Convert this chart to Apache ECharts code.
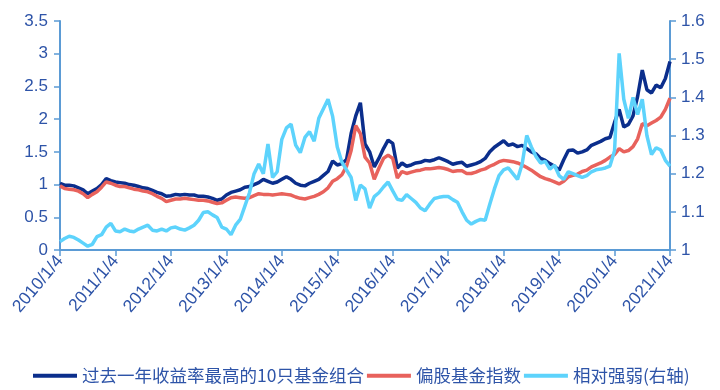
<!DOCTYPE html>
<html><head><meta charset="utf-8">
<script src="https://cdn.jsdelivr.net/npm/echarts@6/dist/echarts.min.js"></script>
<style>html,body{margin:0;padding:0;background:#fff}#c{width:720px;height:390px}</style>
</head><body><div id="c"></div>
<script>
const tickLabels = ['2010/1/4','2011/1/4','2012/1/4','2013/1/4','2014/1/4','2015/1/4','2016/1/4','2017/1/4','2018/1/4','2019/1/4','2020/1/4','2021/1/4'];
const seriesNames = ['过去一年收益率最高的10只基金组合','偏股基金指数','相对强弱(右轴)'];
// monthly samples starting 2010/1
const topFund = [1.02,0.99,0.99,0.98,0.95,0.92,0.86,0.90,0.94,1.00,1.09,1.06,
1.04,1.03,1.02,1.00,0.99,0.97,0.95,0.94,0.91,0.88,0.86,0.82,
0.83,0.85,0.84,0.85,0.84,0.84,0.82,0.82,0.81,0.79,0.76,0.78,
0.84,0.88,0.90,0.92,0.96,0.97,1.00,1.03,1.08,1.05,1.02,1.04,
1.08,1.12,1.08,1.02,0.99,0.98,1.02,1.05,1.08,1.14,1.20,1.36,
1.30,1.32,1.38,1.78,2.05,2.25,1.62,1.50,1.27,1.40,1.55,1.68,
1.63,1.25,1.33,1.28,1.30,1.33,1.34,1.37,1.36,1.38,1.41,1.38,
1.35,1.31,1.33,1.34,1.28,1.30,1.32,1.35,1.40,1.50,1.57,1.62,
1.67,1.60,1.62,1.58,1.60,1.55,1.50,1.47,1.40,1.37,1.32,1.28,
1.22,1.38,1.52,1.53,1.48,1.50,1.53,1.60,1.63,1.66,1.70,1.72,
1.95,2.15,1.88,1.92,2.05,2.35,2.75,2.45,2.40,2.52,2.48,2.62,2.88];
const fundIndex = [0.98,0.94,0.93,0.92,0.90,0.86,0.80,0.85,0.89,0.96,1.04,1.02,
0.99,0.97,0.97,0.95,0.93,0.92,0.90,0.89,0.86,0.82,0.79,0.74,
0.76,0.78,0.78,0.79,0.78,0.77,0.76,0.76,0.75,0.73,0.71,0.72,
0.76,0.80,0.81,0.80,0.79,0.80,0.83,0.86,0.85,0.85,0.84,0.85,
0.86,0.85,0.84,0.81,0.79,0.78,0.80,0.82,0.85,0.89,0.95,1.05,
1.09,1.15,1.28,1.52,1.90,1.78,1.42,1.33,1.08,1.25,1.40,1.45,
1.40,1.10,1.20,1.17,1.19,1.21,1.22,1.24,1.24,1.25,1.26,1.25,
1.23,1.20,1.21,1.21,1.17,1.17,1.19,1.22,1.24,1.28,1.31,1.35,
1.37,1.36,1.35,1.33,1.30,1.26,1.22,1.17,1.12,1.09,1.07,1.04,
1.01,1.05,1.12,1.14,1.16,1.20,1.22,1.27,1.30,1.33,1.37,1.42,
1.46,1.55,1.50,1.52,1.58,1.70,1.93,1.90,1.94,1.98,2.03,2.15,2.32];
const relStrength = [1.022,1.030,1.036,1.033,1.026,1.018,1.010,1.015,1.035,1.040,1.060,1.070,
1.050,1.048,1.055,1.050,1.048,1.055,1.060,1.065,1.052,1.050,1.055,1.050,
1.058,1.060,1.055,1.052,1.058,1.065,1.078,1.098,1.100,1.092,1.085,1.060,
1.055,1.040,1.065,1.080,1.115,1.150,1.200,1.225,1.200,1.278,1.190,1.205,
1.290,1.320,1.330,1.275,1.255,1.295,1.310,1.285,1.345,1.370,1.395,1.350,
1.270,1.230,1.210,1.190,1.130,1.170,1.160,1.110,1.140,1.150,1.165,1.178,
1.155,1.133,1.130,1.145,1.135,1.125,1.110,1.103,1.120,1.135,1.138,1.140,
1.140,1.132,1.125,1.100,1.078,1.068,1.075,1.080,1.078,1.120,1.160,1.195,
1.210,1.215,1.200,1.185,1.225,1.300,1.270,1.245,1.228,1.232,1.212,1.222,
1.195,1.185,1.205,1.200,1.195,1.190,1.195,1.205,1.210,1.212,1.215,1.220,
1.260,1.515,1.395,1.345,1.400,1.355,1.395,1.300,1.250,1.268,1.262,1.235,1.220];

const pair = arr => arr.map((v, i) => [i, v]);
const txt = '#2E54A8';
const axisCol = '#5B9BD5';
const font = '"Liberation Sans", Arial, sans-serif';
const chart = echarts.init(document.getElementById('c'), null, {renderer: 'canvas'});
chart.setOption({
  animation: false,
  grid: {left: 60, right: 50, top: 21, bottom: 140},
  legend: {
    data: seriesNames, left: 28, top: 362, icon: 'rect', itemWidth: 44, itemHeight: 4, itemGap: 3,
    textStyle: {fontSize: 17.5, color: txt, fontFamily: '"Noto Sans CJK SC", sans-serif'}
  },
  xAxis: {
    type: 'value', min: 0, max: 132, interval: 12,
    axisLine: {show: true, lineStyle: {color: axisCol, width: 2}},
    axisTick: {show: true, length: 6, lineStyle: {color: axisCol, width: 1.5}},
    splitLine: {show: false},
    axisLabel: {formatter: v => tickLabels[v / 12], rotate: 50, fontSize: 17.5, color: txt, fontFamily: font, margin: 8}
  },
  yAxis: [{
    type: 'value', min: 0, max: 3.5, interval: 0.5,
    axisLine: {show: true, lineStyle: {color: axisCol, width: 2}},
    axisTick: {show: true, length: 6, lineStyle: {color: axisCol, width: 1.5}},
    splitLine: {show: false},
    axisLabel: {fontSize: 17, color: txt, fontFamily: font, margin: 12}
  }, {
    type: 'value', min: 1, max: 1.6, interval: 0.1, position: 'right',
    axisLine: {show: true, lineStyle: {color: axisCol, width: 2}},
    axisTick: {show: true, length: 6, lineStyle: {color: axisCol, width: 1.5}},
    splitLine: {show: false},
    axisLabel: {fontSize: 17, color: txt, fontFamily: font, margin: 11, formatter: v => String(Math.round(v * 10) / 10)}
  }],
  series: [
    {name: seriesNames[0], type: 'line', data: pair(topFund), showSymbol: false, lineStyle: {color: '#0B2E8C', width: 3.5}, itemStyle: {color: '#0B2E8C'}},
    {name: seriesNames[1], type: 'line', data: pair(fundIndex), showSymbol: false, lineStyle: {color: '#E8625C', width: 3.5}, itemStyle: {color: '#E8625C'}},
    {name: seriesNames[2], type: 'line', yAxisIndex: 1, data: pair(relStrength), showSymbol: false, lineStyle: {color: '#5DD3FC', width: 3.5}, itemStyle: {color: '#5DD3FC'}}
  ]
});
</script></body></html>
